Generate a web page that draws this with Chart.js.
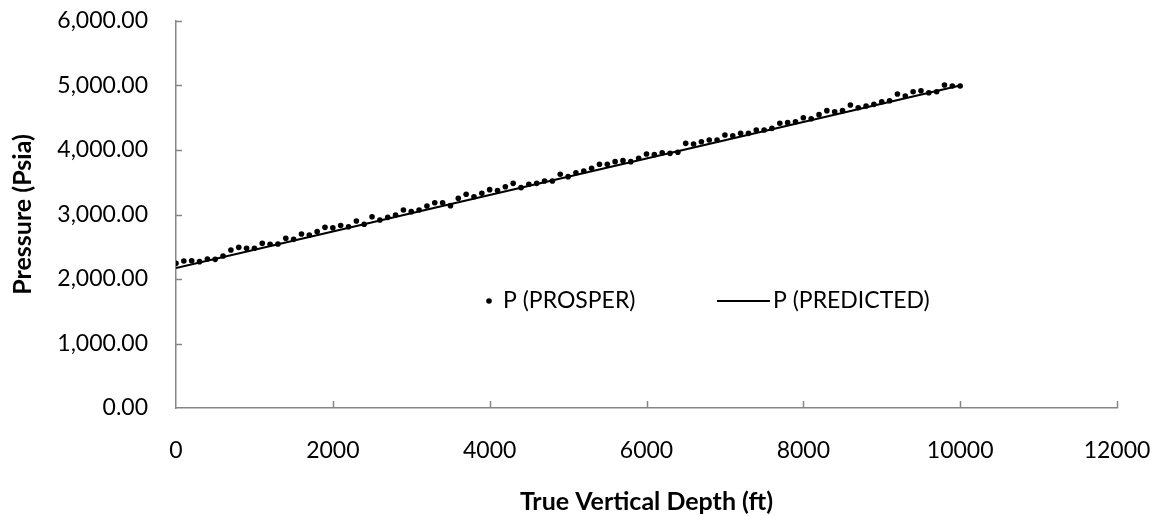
<!DOCTYPE html>
<html>
<head>
<meta charset="utf-8">
<script src="https://cdn.jsdelivr.net/npm/chart.js@4.4.1/dist/chart.umd.min.js"></script>
<style>
  html, body { margin: 0; padding: 0; background: #fff; }
  #wrap { width: 1158px; height: 516px; }
</style>
</head>
<body>
<div id="wrap"><canvas id="myChart" width="1158" height="516"></canvas></div>
<script>
// true vertical depth (ft) for the PROSPER points
var depth = [
  0, 100, 200, 300, 400, 500, 600, 700, 800, 900,
  1000, 1100, 1200, 1300, 1400, 1500, 1600, 1700, 1800, 1900,
  2000, 2100, 2200, 2300, 2400, 2500, 2600, 2700, 2800, 2900,
  3000, 3100, 3200, 3300, 3400, 3500, 3600, 3700, 3800, 3900,
  4000, 4100, 4200, 4300, 4400, 4500, 4600, 4700, 4800, 4900,
  5000, 5100, 5200, 5300, 5400, 5500, 5600, 5700, 5800, 5900,
  6000, 6100, 6200, 6300, 6400, 6500, 6600, 6700, 6800, 6900,
  7000, 7100, 7200, 7300, 7400, 7500, 7600, 7700, 7800, 7900,
  8000, 8100, 8200, 8300, 8400, 8500, 8600, 8700, 8800, 8900,
  9000, 9100, 9200, 9300, 9400, 9500, 9600, 9700, 9800, 9900,
  10000
];
// P (PROSPER), psia
var pProsper = [
  2243, 2279, 2284, 2269, 2310, 2305, 2357, 2450, 2491, 2476,
  2476, 2553, 2538, 2543, 2631, 2615, 2698, 2682, 2734, 2801,
  2795, 2830, 2811, 2899, 2848, 2966, 2915, 2956, 2992, 3070,
  3044, 3070, 3132, 3183, 3183, 3137, 3251, 3313, 3276, 3328,
  3385, 3372, 3431, 3483, 3416, 3468, 3483, 3519, 3519, 3623,
  3587, 3648, 3674, 3716, 3778, 3778, 3819, 3835, 3819, 3871,
  3938, 3928, 3956, 3948, 3964, 4103, 4093, 4129, 4155, 4155,
  4233, 4222, 4258, 4258, 4310, 4310, 4336, 4414, 4424, 4439,
  4501, 4485, 4548, 4610, 4594, 4610, 4698, 4656, 4682, 4708,
  4749, 4764, 4868, 4837, 4904, 4919, 4888, 4904, 5008, 4992,
  4992
];
// P (PREDICTED) line
var predDepth = [0, 2000, 4000, 6000, 8000, 10000];
var pPredicted = [2170, 2736, 3302, 3868, 4434, 5000];

var xTicks = [0, 2000, 4000, 6000, 8000, 10000, 12000];
var yTicks = [0, 1000, 2000, 3000, 4000, 5000, 6000];

var FONT = 'Lato, "Noto Sans", sans-serif';
var AXIS_GREY = '#868686';

function toPoints(xs, ys) {
  return xs.map(function (x, i) { return { x: x, y: ys[i] }; });
}

// short tick marks pointing into the plot, like the original
var innerTicks = {
  id: 'innerTicks',
  afterDraw: function (chart) {
    var ctx = chart.ctx, a = chart.chartArea;
    var xs = chart.scales.x, ys = chart.scales.y;
    ctx.save();
    ctx.strokeStyle = AXIS_GREY;
    ctx.lineWidth = 1.5;
    ctx.beginPath();
    xTicks.forEach(function (v) {
      if (v === 0) return;
      var px = Math.round(xs.getPixelForValue(v)) + 0.5;
      ctx.moveTo(px, a.bottom);
      ctx.lineTo(px, a.bottom - 7);
    });
    yTicks.forEach(function (v) {
      if (v === 0) return;
      var py = Math.round(ys.getPixelForValue(v)) + 0.5;
      ctx.moveTo(a.left, py);
      ctx.lineTo(a.left + 6, py);
    });
    ctx.stroke();
    ctx.restore();
  }
};

// legend sitting inside the plot area
var innerLegend = {
  id: 'innerLegend',
  afterDraw: function (chart) {
    var ctx = chart.ctx, a = chart.chartArea;
    var w = a.right - a.left, h = a.bottom - a.top;
    var fx = function (px) { return a.left + w * (px - 176) / 941; };
    var cy = a.top + h * (301 - 21) / 387;
    ctx.save();
    ctx.fillStyle = '#000';
    ctx.font = '23px ' + FONT;
    ctx.textBaseline = 'middle';
    ctx.textAlign = 'left';

    ctx.beginPath();
    ctx.arc(fx(489), cy, 2.8, 0, Math.PI * 2);
    ctx.fill();
    ctx.fillText('P (PROSPER)', fx(503), cy);

    ctx.strokeStyle = '#000';
    ctx.lineWidth = 2;
    ctx.beginPath();
    ctx.moveTo(fx(717), cy);
    ctx.lineTo(fx(770), cy);
    ctx.stroke();
    ctx.fillText('P (PREDICTED)', fx(773), cy);
    ctx.restore();
  }
};

window.onload = function () {
  var ctx = document.getElementById('myChart').getContext('2d');
  var myChart = new Chart(ctx, {
    type: 'scatter',
    data: {
      datasets: [
        {
          label: 'P (PROSPER)',
          data: toPoints(depth, pProsper),
          pointRadius: 2.8,
          pointHoverRadius: 2.8,
          pointBackgroundColor: '#000',
          pointBorderWidth: 0,
          showLine: false
        },
        {
          label: 'P (PREDICTED)',
          data: toPoints(predDepth, pPredicted),
          showLine: true,
          borderColor: '#000',
          borderWidth: 2,
          pointRadius: 0,
          fill: false
        }
      ]
    },
    options: {
      responsive: false,
      animation: false,
      layout: { padding: { top: 21, right: 41, left: 0, bottom: 0 } },
      plugins: {
        legend: { display: false },
        tooltip: { enabled: false }
      },
      scales: {
        x: {
          type: 'linear',
          min: 0,
          max: 12000,
          afterFit: function (s) {
            s.height = 108;
            s.paddingLeft = 0;
            s.paddingRight = 0;
          },
          afterBuildTicks: function (s) {
            s.ticks = xTicks.map(function (v) { return { value: v }; });
          },
          ticks: {
            padding: 29,
            color: '#000',
            font: { family: FONT, size: 23 },
            maxRotation: 0,
            callback: function (v) { return String(v); }
          },
          grid: { display: true, drawOnChartArea: false, drawTicks: false },
          border: { display: true, color: AXIS_GREY, width: 1.5 },
          title: {
            display: true,
            text: 'True Vertical Depth (ft)',
            color: '#000',
            font: { family: FONT, size: 25, weight: 'bold', lineHeight: 1 },
            padding: { top: 0, bottom: 2 }
          }
        },
        y: {
          type: 'linear',
          min: 0,
          max: 6000,
          afterFit: function (s) {
            s.width = 176;
            s.paddingTop = 0;
            s.paddingBottom = 0;
          },
          afterBuildTicks: function (s) {
            s.ticks = yTicks.map(function (v) { return { value: v }; });
          },
          ticks: {
            padding: 28,
            color: '#000',
            font: { family: FONT, size: 23 },
            callback: function (v) {
              return v.toLocaleString('en-US', { minimumFractionDigits: 2, maximumFractionDigits: 2 });
            }
          },
          grid: { display: true, drawOnChartArea: false, drawTicks: false },
          border: { display: true, color: AXIS_GREY, width: 1.5 },
          title: {
            display: true,
            text: 'Pressure (Psia)',
            color: '#000',
            font: { family: FONT, size: 25, weight: 'bold' },
            padding: { top: 8, bottom: 0 }
          }
        }
      }
    },
    plugins: [innerTicks, innerLegend]
  });
};
</script>
</body>
</html>
